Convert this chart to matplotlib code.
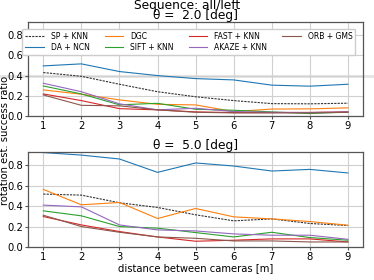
import matplotlib
matplotlib.use("Agg")
import matplotlib.pyplot as plt
from matplotlib.lines import Line2D

# ==========================
# data
# ==========================
distances = [1, 2, 3, 4, 5, 6, 7, 8, 9]
methods = ["SP + KNN", "DA + NCN", "DGC", "SIFT + KNN", "FAST + KNN", "AKAZE + KNN", "ORB + GMS"]

# theta = 2.0 deg
sp_2 = [0.43, 0.393, 0.314, 0.24, 0.19, 0.152, 0.122, 0.12, 0.126]
da_2 = [0.496, 0.516, 0.44, 0.40, 0.37, 0.357, 0.305, 0.295, 0.314]
dgc_2 = [0.258, 0.215, 0.159, 0.115, 0.109, 0.043, 0.068, 0.07, 0.08]
sift_2 = [0.297, 0.218, 0.11, 0.125, 0.066, 0.056, 0.04, 0.023, 0.04]
fast_2 = [0.218, 0.152, 0.072, 0.06, 0.04, 0.033, 0.033, 0.035, 0.04]
akaze_2 = [0.324, 0.24, 0.12, 0.06, 0.076, 0.043, 0.036, 0.033, 0.04]
orb_2 = [0.208, 0.105, 0.1, 0.06, 0.036, 0.03, 0.03, 0.03, 0.035]

# theta = 5.0 deg
sp_5 = [0.518, 0.508, 0.433, 0.387, 0.315, 0.256, 0.275, 0.23, 0.21]
da_5 = [0.925, 0.90, 0.862, 0.731, 0.823, 0.793, 0.744, 0.76, 0.725]
dgc_5 = [0.564, 0.413, 0.436, 0.279, 0.377, 0.295, 0.275, 0.249, 0.213]
sift_5 = [0.354, 0.305, 0.2, 0.184, 0.141, 0.098, 0.144, 0.092, 0.066]
fast_5 = [0.298, 0.216, 0.151, 0.098, 0.056, 0.066, 0.079, 0.079, 0.049]
akaze_5 = [0.41, 0.393, 0.216, 0.167, 0.157, 0.128, 0.115, 0.115, 0.075]
orb_5 = [0.311, 0.2, 0.144, 0.098, 0.085, 0.059, 0.059, 0.049, 0.049]

data_2 = [sp_2, da_2, dgc_2, sift_2, fast_2, akaze_2, orb_2]
data_5 = [sp_5, da_5, dgc_5, sift_5, fast_5, akaze_5, orb_5]

colors = ["#333333", "tab:blue", "tab:orange", "tab:green", "tab:red", "tab:purple", "tab:brown"]
styles = ["--", "-", "-", "-", "-", "-", "-"]

plt.rcParams["font.family"] = "DejaVu Sans"
plt.rcParams["font.size"] = 7.5

fig = plt.figure(figsize=(3.74, 2.80), dpi=100)
ax1 = fig.add_axes([0.075, 0.586, 0.896, 0.335])
ax2 = fig.add_axes([0.075, 0.118, 0.896, 0.339])

# faint horizontal band across the page
fig.add_artist(Line2D([0, 1], [1 - 76 / 280, 1 - 76 / 280], color="#e6e6e6", lw=2.2, zorder=0))

for ax, data in [(ax1, data_2), (ax2, data_5)]:
    for name, vals, c, ls in zip(methods, data, colors, styles):
        ax.plot(distances, vals, color=c, ls=ls, lw=0.8,
                dashes=(2, 1) if ls == "--" else (None, None), label=name)
    ax.set_xlim(0.6, 9.4)
    ax.set_ylim(0, 0.93)
    ax.set_xticks(distances)
    ax.set_yticks([0.0, 0.2, 0.4, 0.6, 0.8])
    ax.grid(color="#d0d0d0", lw=0.8)
    ax.set_axisbelow(True)
    for s in ax.spines.values():
        s.set_color("#555555")
        s.set_linewidth(0.9)
    ax.tick_params(labelsize=7.2, length=2.5, width=0.8, color="#555555", pad=1.2)
    ax.patch.set_alpha(0)

fig.suptitle("Sequence: all/left", fontsize=8.8, y=1.005)
ax1.set_title("θ =  2.0 [deg]", fontsize=8.8, pad=0.8)
ax2.set_title("θ =  5.0 [deg]", fontsize=8.8, pad=2)
ax2.set_xlabel("distance between cameras [m]", fontsize=7.2, labelpad=1)
fig.text(0.0, 0.5, "rotation est. success ratio", rotation=90, va="center", ha="left", fontsize=7.2)

ax1.legend(ncol=4, fontsize=5.5, loc="upper right", bbox_to_anchor=(0.988, 0.97),
           frameon=True, framealpha=1, edgecolor="#cccccc", handlelength=2.4,
           columnspacing=2.0, handletextpad=0.9, borderpad=0.4, labelspacing=0.3)

plt.savefig("out.png", dpi=100)
